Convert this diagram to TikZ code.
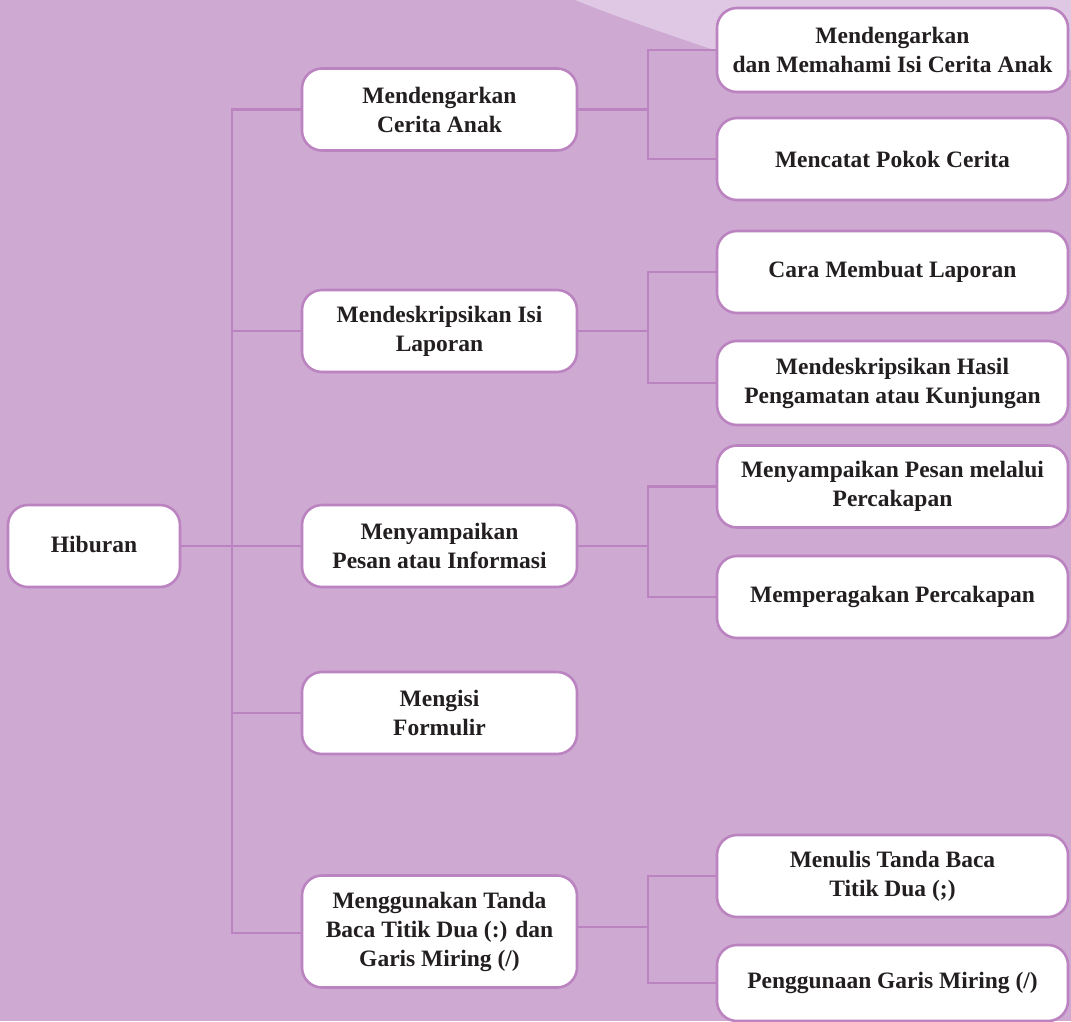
\documentclass[tikz,border=0pt]{standalone}
\usepackage{fontspec}
\setmainfont{Liberation Serif}
\definecolor{bgpurple}{HTML}{CEAAD2}
\definecolor{lightpurple}{HTML}{DFC8E3}
\definecolor{linepurple}{HTML}{BB84C1}
\definecolor{txt}{HTML}{231F20}
\tikzset{
  box/.style={draw=linepurple, line width=2.6pt, fill=white, rounded corners=20pt,
    align=center, text=txt, font=\fontsize{23.5}{29}\selectfont\bfseries, inner sep=2pt},
  lvlone/.style={box, minimum width=172pt, minimum height=82pt},
  lvltwo/.style={box, minimum width=275pt, minimum height=82pt},
  lvlthree/.style={box, minimum width=351pt, minimum height=82pt},
  conn/.style={draw=linepurple, line width=2.4pt, line join=miter}
}
\begin{document}
\begin{tikzpicture}[x=1pt,y=-1pt]
\fill[bgpurple] (0,0) rectangle (1071,1021);
\useasboundingbox (0,0) rectangle (1071,1021);
\fill[lightpurple] (575,0) .. controls (625,20) and (670,35) .. (720,52) -- (1071,70) -- (1071,0) -- cycle;

% trunk and branch coordinates
\coordinate (t0) at (232,109.5);
\coordinate (t1) at (232,933);
\coordinate (ta) at (648,50);

\node[lvlone] (hib) at (94,546) {\raisebox{4pt}{Hiburan}};

\node[lvltwo] (a) at (439.5,109.5) {Mendengarkan\\Cerita Anak};
\node[lvltwo] (b) at (439.5,331) {Mendeskripsikan Isi\\Laporan};
\node[lvltwo] (c) at (439.5,546) {Menyampaikan\\Pesan atau Informasi};
\node[lvltwo] (d) at (439.5,713) {Mengisi\\Formulir};
\node[lvltwo, minimum height=112pt] (e) at (439.5,931.5) {Menggunakan Tanda\\Baca Titik Dua (:) dan\\Garis Miring (/)};

\node[lvlthree, minimum height=84pt] (a1) at (892.5,50) {Mendengarkan\\dan Memahami Isi Cerita Anak};
\node[lvlthree] (a2) at (892.5,159) {Mencatat Pokok Cerita};
\node[lvlthree] (b1) at (892.5,272) {Cara Membuat Laporan};
\node[lvlthree, minimum height=84pt] (b2) at (892.5,383) {Mendeskripsikan Hasil\\Pengamatan atau Kunjungan};
\node[lvlthree] (c1) at (892.5,486.5) {Menyampaikan Pesan melalui\\Percakapan};
\node[lvlthree] (c2) at (892.5,597) {Memperagakan Percakapan};
\node[lvlthree, minimum height=82pt] (e1) at (892.5,876) {Menulis Tanda Baca\\Titik Dua (;)};
\node[lvlthree, minimum height=76pt] (e2) at (892.5,983) {Penggunaan Garis Miring (/)};

% connectors level 1 -> 2
\draw[conn] (hib.east) -- (hib.east -| t0);
\draw[conn] (a.west) -- (t0) -- (t1) -- (t1 -| e.west);
\draw[conn] (b.west -| t0) -- (b.west);
\draw[conn] (c.west -| t0) -- (c.west);
\draw[conn] (d.west -| t0) -- (d.west);

% group A
\draw[conn] (a.east) -- (a.east -| ta);
\draw[conn] (a1.west) -- (a1.west -| ta) -- (a2.west -| ta) -- (a2.west);
% group B
\draw[conn] (b.east) -- (b.east -| ta);
\draw[conn] (b1.west) -- (b1.west -| ta) -- (b2.west -| ta) -- (b2.west);
% group C
\draw[conn] (c.east) -- (c.east -| ta);
\draw[conn] (c1.west) -- (c1.west -| ta) -- (c2.west -| ta) -- (c2.west);
% group E
\draw[conn] ([yshift=4.5pt]e.east) -- ([yshift=4.5pt]e.east -| ta);
\draw[conn] (e1.west) -- (e1.west -| ta) -- (e2.west -| ta) -- (e2.west);
\end{tikzpicture}
\end{document}
